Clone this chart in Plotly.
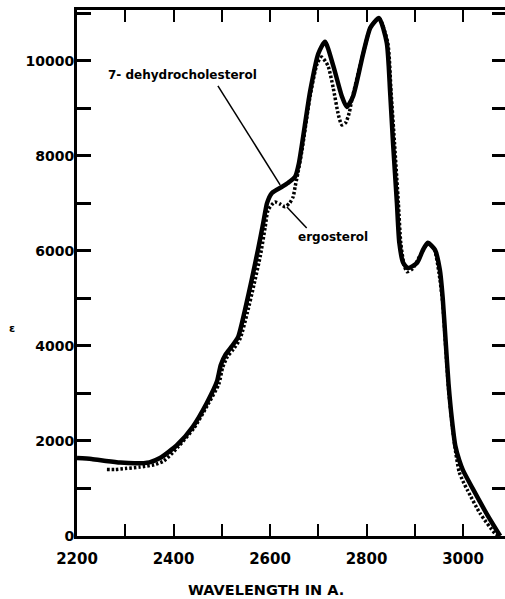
import plotly.graph_objects as go

# ---------------------------------------------------------
# Data (wavelength in Å, extinction coefficient ε)
# ---------------------------------------------------------
dhc_wl = [2200, 2230, 2260, 2290, 2320, 2350, 2372, 2407, 2440, 2469, 2490, 2498,
          2508, 2520, 2534, 2548, 2562, 2575, 2586, 2594, 2604, 2625, 2637, 2652, 2660,
          2683, 2700, 2714, 2731, 2749, 2759, 2772, 2793, 2808, 2826, 2842, 2849,
          2855, 2863, 2868, 2876, 2886, 2905, 2917, 2927, 2942, 2952, 2958, 2964,
          2970, 2977, 2984, 2992, 3000, 3021, 3050, 3077]
dhc_eps = [1640, 1620, 1580, 1545, 1530, 1550, 1640, 1910, 2300, 2800, 3250, 3600,
           3820, 3980, 4190, 4750, 5390, 6020, 6590, 7010, 7220, 7350, 7430, 7560, 7850,
           9350, 10150, 10400, 9900, 9250, 9030, 9250, 10150, 10700, 10900, 10380, 9330,
           8270, 7010, 6170, 5750, 5640, 5750, 6020, 6170, 6020, 5600, 5000, 4100,
           3200, 2450, 1900, 1600, 1380, 980, 450, 0]

erg_wl = [2262, 2280, 2300, 2330, 2360, 2380, 2410, 2443, 2472, 2494, 2502, 2512,
          2524, 2538, 2553, 2567, 2580, 2590, 2596, 2610, 2622, 2631, 2641, 2648, 2652,
          2658, 2666, 2683, 2698, 2707, 2720, 2731, 2742, 2749, 2757, 2764, 2770,
          2793, 2808, 2826, 2844, 2851, 2858, 2866, 2871, 2878, 2884, 2895, 2911,
          2927, 2940, 2950, 2958, 2964, 2970, 2978, 2985, 2992, 3000, 3010, 3035,
          3066, 3075]
erg_eps = [1400, 1400, 1420, 1450, 1500, 1580, 1880, 2280, 2780, 3200, 3550, 3780,
           3930, 4150, 4700, 5300, 5900, 6500, 6860, 7030, 6980, 6930, 7010, 7140, 7350,
           7650, 8100, 9250, 9950, 10080, 9900, 9430, 8850, 8650, 8700, 8900, 9200,
           10150, 10700, 10900, 10380, 9330, 8270, 7010, 6170, 5700, 5560, 5620, 5900,
           6150, 6050, 5550, 4900, 4000, 3100, 2300, 1750, 1350, 1150, 950, 480,
           60, 0]

x_range = [2200, 3087]
y_range = [0, 11070]

FONT = "DejaVu Sans"
INK = "#000000"

fig = go.Figure()

# ergosterol (dotted) on the left axis, drawn first
fig.add_trace(go.Scatter(
    x=erg_wl, y=erg_eps, mode="lines", name="ergosterol",
    line=dict(color=INK, width=3.5, dash="2.5px,2px", shape="spline", smoothing=0.6),
))
# 7-dehydrocholesterol (solid) on the identical right axis, so it sits on top
fig.add_trace(go.Scatter(
    x=dhc_wl, y=dhc_eps, mode="lines", name="7-dehydrocholesterol", yaxis="y2",
    line=dict(color=INK, width=4.5, shape="spline", smoothing=0.6),
))

# leader lines for the curve labels
fig.add_shape(type="line", x0=2492, y0=9474, x1=2621, y1=7390,
              line=dict(color=INK, width=1.5))
fig.add_shape(type="line", x0=2635, y0=6926, x1=2676, y1=6484,
              line=dict(color=INK, width=1.5))

fig.add_annotation(x=2418, y=9705, text="7- dehydrocholesterol", showarrow=False,
                   font=dict(family=FONT, size=12, color=INK, weight="bold"))
fig.add_annotation(x=2730, y=6295, text="ergosterol", showarrow=False,
                   font=dict(family=FONT, size=12, color=INK, weight="bold"))

# axis titles
fig.add_annotation(x=0.4416, y=-0.1027, xref="paper", yref="paper",
                   xanchor="center", yanchor="middle",
                   text="WAVELENGTH IN A.", showarrow=False,
                   font=dict(family=FONT, size=14.5, color=INK, weight="bold"))
fig.add_annotation(x=-0.152, y=0.395, xref="paper", yref="paper",
                   xanchor="center", yanchor="middle",
                   text="ε", showarrow=False,
                   font=dict(family=FONT, size=11, color=INK, weight="bold"))

fig.update_layout(
    width=505,
    height=599,
    autosize=False,
    showlegend=False,
    plot_bgcolor="#FFFFFF",
    paper_bgcolor="#FFFFFF",
    margin=dict(l=77, r=0, t=10, b=63),
    font=dict(family=FONT, color=INK),
    xaxis=dict(
        range=x_range,
        showgrid=False,
        zeroline=False,
        showline=True,
        linewidth=3,
        linecolor=INK,
        mirror="ticks",
        ticks="inside",
        ticklen=12,
        tickwidth=2,
        tickcolor=INK,
        tick0=2200,
        dtick=200,
        minor=dict(dtick=100, ticks="inside", ticklen=12, tickwidth=2, tickcolor=INK, showgrid=False),
        tickfont=dict(family=FONT, size=15, color=INK, weight="bold"),
        ticklabelstandoff=7,
    ),
    yaxis=dict(
        range=y_range,
        showgrid=False,
        zeroline=False,
        showline=True,
        linewidth=3,
        linecolor=INK,
        mirror=False,
        ticks="inside",
        ticklen=14,
        tickwidth=3,
        tickcolor=INK,
        tick0=0,
        dtick=2000,
        tickformat="d",
        minor=dict(dtick=1000, ticks="inside", ticklen=14, tickwidth=3, tickcolor=INK, showgrid=False),
        tickfont=dict(family=FONT, size=14, color=INK, weight="bold"),
        ticklabelstandoff=-3,
    ),
    # right-hand ticks without an axis line
    yaxis2=dict(
        overlaying="y",
        anchor="x",
        side="right",
        range=y_range,
        showline=False,
        showgrid=False,
        zeroline=False,
        showticklabels=False,
        ticks="inside",
        ticklen=13,
        tickwidth=3,
        tickcolor=INK,
        tick0=0,
        dtick=1000,
    ),
)

# drop the default 8px body margin so the figure fills the window exactly
fig.write_html("out.html", config={"displayModeBar": False},
               post_script="document.body.style.margin = '0';")
